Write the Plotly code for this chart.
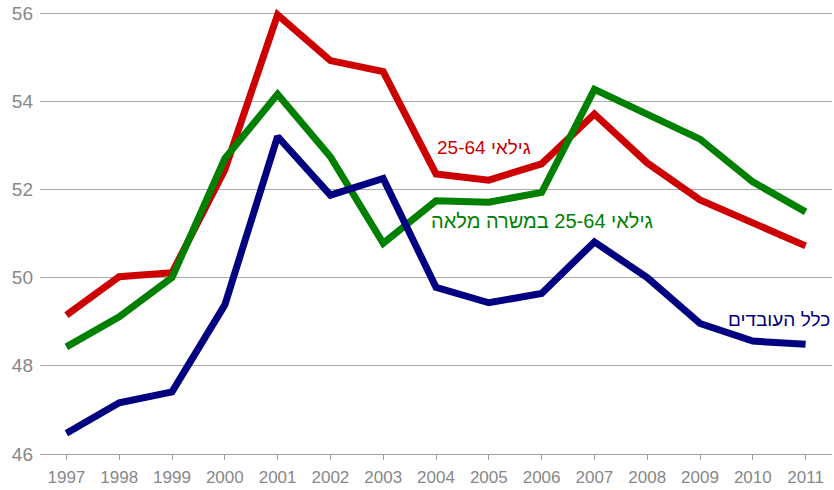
import plotly.graph_objects as go

years = list(range(1997, 2012))
ages_25_64 = [49.15, 50.02, 50.11, 52.44, 55.96, 54.92, 54.67, 52.35, 52.21, 52.58,
              53.71, 52.60, 51.76, 51.23, 50.72]
ages_25_64_full = [48.43, 49.11, 50.00, 52.70, 54.16, 52.74, 50.78, 51.74, 51.71, 51.93,
                   54.27, 53.72, 53.14, 52.17, 51.49]
all_workers = [46.47, 47.16, 47.41, 49.38, 53.20, 51.87, 52.25, 49.78, 49.43, 49.64,
               50.81, 50.00, 48.96, 48.56, 48.49]
y_ticks = [46, 48, 50, 52, 54, 56]

names = ["גילאי 25-64", "גילאי 25-64 במשרה מלאה", "כלל העובדים"]
colors = ["#cc0000", "#008000", "#000080"]
series = [ages_25_64, ages_25_64_full, all_workers]
label_sizes = [19, 20, 19]

fig = go.Figure()
for name, col, vals in zip(names, colors, series):
    fig.add_trace(go.Scatter(x=years, y=vals, mode="lines", name=name,
                             line=dict(color=col, width=7), showlegend=False))

label_pos = [(2004.91, 52.94), (2006.01, 51.28), (2010.49, 49.04)]
for name, col, sz, (lx, ly) in zip(names, colors, label_sizes, label_pos):
    fig.add_annotation(x=lx, y=ly, text=name, showarrow=False,
                       font=dict(color=col, size=sz, family="Liberation Sans, Arial, sans-serif"),
                       xanchor="center", yanchor="middle")

fig.update_layout(
    width=834, height=490,
    margin=dict(l=40, r=2, t=0, b=36),
    paper_bgcolor="white", plot_bgcolor="white",
    font=dict(family="Liberation Sans, Arial, sans-serif", color="#888888"),
)
fig.update_xaxes(range=[1996.5, 2011.5], tickmode="array", tickvals=years,
                 ticktext=[str(y) for y in years], showgrid=False,
                 showline=True, linecolor="#a0a0a0", linewidth=1,
                 ticks="outside", ticklen=5, tickcolor="#a0a0a0",
                 tickfont=dict(size=17, color="#888888"), zeroline=False,
                 ticklabelstandoff=3)
fig.update_yaxes(range=[46, 46 + 454 / 44.1], tickmode="array", tickvals=y_ticks,
                 showgrid=True, gridcolor="#a8a8a8", gridwidth=1,
                 zeroline=False, showline=False, ticks="",
                 tickfont=dict(size=19, color="#888888"), ticklabelstandoff=6)

fig.write_html("out.html", config={"displayModeBar": False},
               post_script="document.body.style.margin='0px';document.body.style.overflow='hidden';")
